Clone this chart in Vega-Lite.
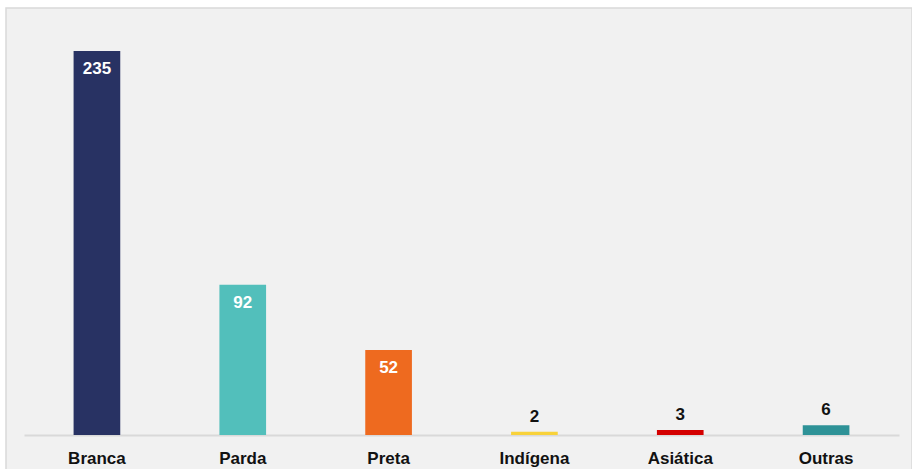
{
  "$schema": "https://vega.github.io/schema/vega-lite/v6.json",
  "autosize": "none",
  "width": 906,
  "height": 462,
  "padding": {"left": 6, "top": 8, "right": 0, "bottom": 0},
  "background": "#ffffff",
  "config": {
    "view": {"fill": "#f1f1f1", "stroke": "#d9d9d9", "strokeWidth": 1.5},
    "font": "Liberation Sans"
  },
  "data": {
    "values": [
      {"categoria": "Branca", "valor": 235},
      {"categoria": "Parda", "valor": 92},
      {"categoria": "Preta", "valor": 52},
      {"categoria": "Indígena", "valor": 2},
      {"categoria": "Asiática", "valor": 3},
      {"categoria": "Outras", "valor": 6}
    ]
  },
  "encoding": {
    "x": {
      "field": "categoria",
      "type": "nominal",
      "sort": null,
      "scale": {"range": [18, 893], "paddingInner": 0.68, "paddingOuter": 0.34},
      "axis": {
        "title": null,
        "orient": "bottom",
        "offset": -35,
        "ticks": false,
        "grid": false,
        "domainColor": "#d9d9d9",
        "domainWidth": 2,
        "labelAngle": 0,
        "labelFont": "Liberation Sans",
        "labelFontWeight": "bold",
        "labelFontSize": 17,
        "labelColor": "#111111",
        "labelPadding": 28,
        "labelBaseline": "alphabetic"
      }
    },
    "y": {
      "field": "valor",
      "type": "quantitative",
      "scale": {"domain": [0, 261.3], "range": [427, 0], "nice": false, "zero": true},
      "axis": null
    }
  },
  "layer": [
    {
      "mark": {"type": "bar"},
      "encoding": {
        "color": {
          "field": "categoria",
          "type": "nominal",
          "scale": {
            "domain": ["Branca", "Parda", "Preta", "Indígena", "Asiática", "Outras"],
            "range": ["#283263", "#52bfbb", "#ee6a1f", "#f8d23a", "#d40000", "#2e9297"]
          },
          "legend": null
        }
      }
    },
    {
      "transform": [{"filter": "datum.valor >= 10"}],
      "mark": {"type": "text", "baseline": "middle", "dy": 18, "fontWeight": "bold", "fontSize": 17, "color": "#ffffff", "font": "Liberation Sans"},
      "encoding": {"text": {"field": "valor", "type": "quantitative"}}
    },
    {
      "transform": [{"filter": "datum.valor < 10"}],
      "mark": {"type": "text", "baseline": "middle", "dy": -15, "fontWeight": "bold", "fontSize": 17, "color": "#111111", "font": "Liberation Sans"},
      "encoding": {"text": {"field": "valor", "type": "quantitative"}}
    }
  ]
}
